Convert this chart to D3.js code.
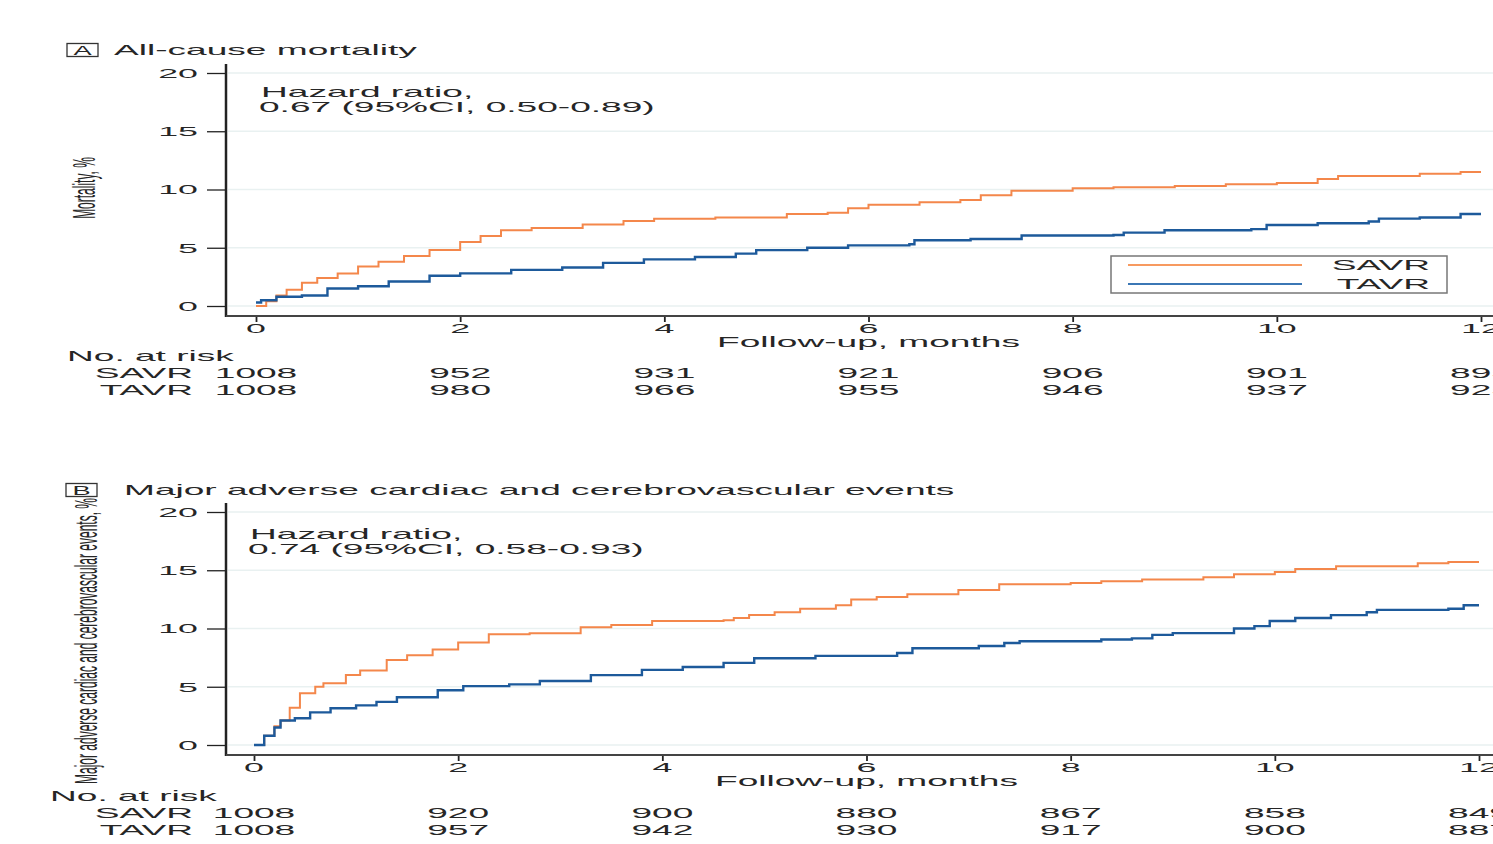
<!DOCTYPE html>
<html>
<head>
<meta charset="utf-8">
<script src="https://cdn.jsdelivr.net/npm/d3@7"></script>
<style>
  html, body { margin: 0; padding: 0; background: #fff; overflow: hidden; }
  svg { display: block; font-family: "Liberation Sans", Arial, sans-serif; }
</style>
</head>
<body>
<svg id="chart" width="1493" height="844"></svg>
<script>
// months on the x axis
const monthTicks = [0, 2, 4, 6, 8, 10, 12]
const yTicks = [0, 5, 10, 15, 20]

// A: all-cause mortality, KM steps [month, %]
const mortalitySavr = [[0,0],[0.1,0.4],[0.2,0.9],[0.3,1.4],[0.45,2.0],[0.6,2.4],[0.8,2.8],[1.0,3.4],[1.2,3.8],[1.45,4.3],[1.7,4.8],[2.0,5.5],[2.2,6.0],[2.4,6.5],[2.7,6.7],[3.2,7.0],[3.6,7.3],[3.9,7.5],[4.5,7.6],[5.2,7.9],[5.6,8.0],[5.8,8.4],[6.0,8.7],[6.5,8.9],[6.9,9.1],[7.1,9.5],[7.4,9.9],[8.0,10.1],[8.4,10.2],[9.0,10.3],[9.5,10.45],[10.0,10.55],[10.4,10.9],[10.6,11.15],[11.4,11.35],[11.8,11.5],[12.0,11.5]]
const mortalityTavr = [[0,0.3],[0.05,0.5],[0.2,0.8],[0.45,0.9],[0.7,1.5],[1.0,1.7],[1.3,2.1],[1.7,2.6],[2.0,2.8],[2.5,3.1],[3.0,3.3],[3.4,3.7],[3.8,4.0],[4.3,4.2],[4.7,4.5],[4.9,4.8],[5.4,5.0],[5.8,5.2],[6.4,5.3],[6.45,5.65],[7.0,5.75],[7.5,6.05],[8.4,6.1],[8.5,6.3],[8.9,6.5],[9.75,6.6],[9.9,6.95],[10.4,7.1],[10.9,7.25],[11.0,7.5],[11.4,7.6],[11.8,7.9],[12.0,7.9]]
const riskA_savr = [1008, 952, 931, 921, 906, 901, 895]
const riskA_tavr = [1008, 980, 966, 955, 946, 937, 925]

// B: MACCE
const macceSavr = [[0,0],[0.1,0.8],[0.2,1.6],[0.26,2.1],[0.35,3.2],[0.45,4.45],[0.6,5.0],[0.68,5.3],[0.9,6.0],[1.04,6.4],[1.3,7.3],[1.5,7.7],[1.75,8.2],[2.0,8.8],[2.3,9.5],[2.7,9.6],[3.2,10.1],[3.5,10.3],[3.9,10.65],[4.6,10.7],[4.7,10.9],[4.85,11.15],[5.1,11.4],[5.35,11.7],[5.7,12.0],[5.85,12.5],[6.1,12.7],[6.4,12.95],[6.9,13.3],[7.3,13.8],[8.0,13.9],[8.3,14.05],[8.7,14.2],[9.3,14.4],[9.6,14.65],[10.0,14.85],[10.2,15.1],[10.6,15.35],[11.4,15.6],[11.7,15.7],[12.0,15.7]]
const macceTavr = [[0,0],[0.1,0.8],[0.2,1.5],[0.26,2.1],[0.4,2.3],[0.55,2.8],[0.75,3.15],[1.0,3.4],[1.2,3.7],[1.4,4.1],[1.8,4.7],[2.05,5.05],[2.5,5.2],[2.8,5.5],[3.3,6.0],[3.8,6.45],[4.2,6.7],[4.6,7.05],[4.9,7.45],[5.5,7.65],[6.3,7.9],[6.45,8.3],[7.1,8.5],[7.35,8.75],[7.5,8.9],[8.3,9.05],[8.6,9.15],[8.8,9.45],[9.0,9.6],[9.6,10.0],[9.8,10.2],[9.95,10.65],[10.2,10.9],[10.55,11.15],[10.9,11.4],[11.0,11.6],[11.7,11.7],[11.85,12.0],[12.0,12.0]]
const riskB_savr = [1008, 920, 900, 880, 867, 858, 849]
const riskB_tavr = [1008, 957, 942, 930, 917, 900, 887]

const groups = ["SAVR", "TAVR"]
const colors = { SAVR: "#f4874b", TAVR: "#1d5a9b" }
const legendColors = { SAVR: "#f79a60", TAVR: "#3b77b5" }

const XS = 2.65   // glyphs in the picture are stretched sideways
const svg = d3.select("#chart")

function txt(g, s, x, y, opt) {
  opt = opt || {}
  let tr = `translate(${x},${y}) scale(${XS},1)` + (opt.rotate ? " rotate(-90)" : "")
  return g.append("text")
    .attr("transform", tr)
    .attr("text-anchor", opt.anchor || "start")
    .attr("dy", "0.36em")
    .attr("font-size", opt.size || 14)
    .attr("fill", "#262626")
    .text(s)
}

function drawPanel(p) {
  let g = svg.append("g")
  let x = d3.scaleLinear().domain([0, 12]).range([p.x0, p.x12])
  let y = d3.scaleLinear().domain([0, 20]).range([p.y0, p.y20])

  // panel letter + title
  g.append("rect").attr("x", p.boxX).attr("y", p.titleY - 6.5).attr("width", 31).attr("height", 13)
    .attr("fill", "none").attr("stroke", "#333").attr("stroke-width", 1.3)
  g.append("text").attr("transform", `translate(${p.boxX + 15.5},${p.titleY}) scale(2.1,1)`)
    .attr("text-anchor", "middle").attr("dy", "0.36em").attr("font-size", 13).attr("fill", "#262626").text(p.letter)
  txt(g, p.title, p.titleX, p.titleY)

  // grid
  g.selectAll(".grid").data(yTicks).enter().append("line")
    .attr("x1", p.axisX + 2).attr("x2", 1493)
    .attr("y1", d => y(d)).attr("y2", d => y(d))
    .attr("stroke", "#e9f1f1").attr("stroke-width", 1.5)

  // y axis
  let yAxis = d3.axisLeft(y).tickValues(yTicks).tickSize(19).tickFormat("")
  let ya = g.append("g").attr("transform", `translate(${p.axisX},0)`).call(yAxis)
  ya.select(".domain").remove()
  ya.selectAll(".tick line").attr("stroke", "#222").attr("stroke-width", 1.3)
  yTicks.forEach(d => txt(g, d, p.axisX - 28, y(d), { anchor: "end", size: 13.5 }))
  g.append("line").attr("x1", p.axisX).attr("x2", p.axisX).attr("y1", p.axisTop).attr("y2", p.xAxisY + 1)
    .attr("stroke", "#222").attr("stroke-width", 2.5)

  // x axis
  let xAxis = d3.axisBottom(x).tickValues(monthTicks).tickSize(6).tickFormat("")
  let xa = g.append("g").attr("transform", `translate(0,${p.xAxisY})`).call(xAxis)
  xa.select(".domain").remove()
  xa.selectAll(".tick line").attr("stroke", "#222").attr("stroke-width", 1.8)
  g.append("line").attr("x1", p.axisX).attr("x2", 1493).attr("y1", p.xAxisY).attr("y2", p.xAxisY)
    .attr("stroke", "#444").attr("stroke-width", 2.2)
  monthTicks.forEach(d => txt(g, d, x(d), p.xAxisY + 12, { anchor: "middle", size: 13.5 }))
  txt(g, "Follow-up, months", x(6), p.xAxisY + 26, { anchor: "middle" })

  // y label
  txt(g, p.ylabel, p.ylabX, p.ylabY, { anchor: "middle", size: 12, rotate: true })

  // hazard ratio
  txt(g, "Hazard ratio,", p.hrX + 2, p.hrY)
  txt(g, p.hr, p.hrX, p.hrY + 15)

  // curves
  let line = d3.line().x(d => x(d[0])).y(d => y(d[1])).curve(d3.curveStepAfter)
  g.append("path").datum(p.savr).attr("d", line).attr("fill", "none")
    .attr("stroke", colors.SAVR).attr("stroke-width", 2)
  g.append("path").datum(p.tavr).attr("d", line).attr("fill", "none")
    .attr("stroke", colors.TAVR).attr("stroke-width", 2.4)

  // at risk table
  txt(g, "No. at risk", p.riskX, p.riskY)
  let rows = [p.riskSavr, p.riskTavr]
  groups.forEach((name, i) => {
    let ry = p.riskY + 17 + i * 16.5
    txt(g, name, 193, ry, { anchor: "end" })
    rows[i].forEach((n, j) => txt(g, n, x(monthTicks[j]), ry, { anchor: "middle" }))
  })

  // legend
  if (p.legend) {
    let lg = g.append("g")
    lg.append("rect").attr("x", 1111).attr("y", 256).attr("width", 336).attr("height", 37)
      .attr("fill", "#fff").attr("stroke", "#777").attr("stroke-width", 1.5)
    groups.forEach((name, i) => {
      let ly = 265 + i * 19
      lg.append("line").attr("x1", 1128).attr("x2", 1302).attr("y1", ly).attr("y2", ly)
        .attr("stroke", legendColors[name]).attr("stroke-width", 2)
      txt(lg, name, 1430, ly, { anchor: "end" })
    })
  }
}

drawPanel({
  letter: "A", title: "All-cause mortality", boxX: 67, titleX: 114, titleY: 50,
  x0: 256, x12: 1481, y0: 306, y20: 73, axisX: 226, axisTop: 64, xAxisY: 316,
  ylabel: "Mortality, %", ylabX: 84, ylabY: 188,
  hr: "0.67 (95%CI, 0.50-0.89)", hrX: 259, hrY: 92,
  savr: mortalitySavr, tavr: mortalityTavr,
  riskX: 67, riskY: 356, riskSavr: riskA_savr, riskTavr: riskA_tavr,
  legend: true
})

drawPanel({
  letter: "B", title: "Major adverse cardiac and cerebrovascular events", boxX: 66, titleX: 124, titleY: 490,
  x0: 254, x12: 1479, y0: 745, y20: 512, axisX: 226, axisTop: 503, xAxisY: 755,
  ylabel: "Major adverse cardiac and cerebrovascular events, %", ylabX: 86, ylabY: 641,
  hr: "0.74 (95%CI, 0.58-0.93)", hrX: 248, hrY: 534,
  savr: macceSavr, tavr: macceTavr,
  riskX: 50, riskY: 796, riskSavr: riskB_savr, riskTavr: riskB_tavr,
  legend: false
})
</script>
</body>
</html>
